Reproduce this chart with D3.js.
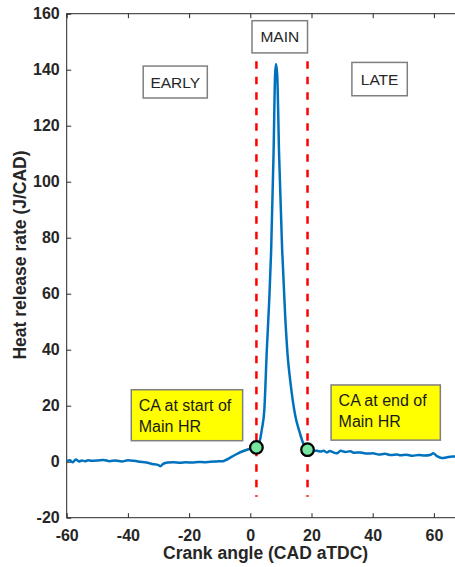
<!DOCTYPE html>
<html><head><meta charset="utf-8">
<script src="https://cdn.jsdelivr.net/npm/d3@7"></script>
<style>
body{margin:0;background:#fff;}
svg{display:block;font-family:"Liberation Sans",Arial,sans-serif;}
</style></head><body>
<svg id="c" width="455" height="567"></svg>
<script>
// Data
const cad = [-60,-59,-58,-57,-56,-55,-54,-53,-52,-50,-48,-46,-44,-42,-40,-38,-36,-34,-32,-30,-29.4,-28.5,-27,-25,-23,-21,-19,-17,-15,-13,-11,-9,-8,-6,-4,-2,0,1,2,3,3.8,4.6,5.4,6.2,6.8,7.6,8.1,8.4,8.8,9.4,10.4,11.4,12.2,13.1,14.7,16.1,17.4,18.7,20,21.8,23,24,25,26,27,28.3,29.5,31,32.7,34,36,38,40,42,44,46,48,49,51,53,55,57,59,59.8,61,62.6,64,66,68,70];
const hrr = [0.3,0.5,-0.2,0.8,0.1,0.4,0.2,0.5,0.3,0.4,0.6,0.2,0.4,0.1,0.5,0.3,0.0,-0.3,-0.8,-1.2,-1.6,-0.8,-0.3,-0.2,-0.4,-0.2,-0.3,-0.1,-0.2,0.0,0.1,0.2,0.6,1.8,3.0,3.9,4.6,4.9,5.1,7.0,11.7,18.8,40,58,75,110,138,142,138,110,76,52,38,28.5,16.4,10.6,6.3,4.3,3.9,3.9,3.6,3.9,3.3,3.8,3.4,3.0,3.9,3.5,3.7,3.2,3.3,2.9,3.0,2.6,2.8,2.4,2.6,2.3,2.5,2.1,2.4,2.2,2.5,3.0,2.0,1.3,1.5,1.9,1.8,1.8];
const boundaryCad = [2, 18.7];
const boundaryHrr = [5.1, 4.3];
const boundaryLineRange = [-12.5, 143];
const xTicks = [-60,-40,-20,0,20,40,60];
const yTicks = [-20,0,20,40,60,80,100,120,140,160];
const regionLabels = ["EARLY","MAIN","LATE"];
const regionBoxes = [[-35,-14.05,141.3,129.9],[0.56,18.7,157.5,146],[33.2,51.3,142.6,130.7]];
const noteLabels = [["CA at start of","Main HR"],["CA at end of","Main HR"]];
const noteBoxes = [[-38.9,-2.5,25.7,7.5],[26.4,62.1,27.4,7.7]];

const svg = d3.select("#c");
const L=66.7, R=464.5, T=13.7, B=517.7;
const x = d3.scaleLinear().domain([-60,70]).range([L,R]);
const y = d3.scaleLinear().domain([-20,160]).range([B,T]);
const axisCol = "#262626";
const fmt = d => String(d);

// frame
svg.append("rect").attr("x",L).attr("y",T).attr("width",R-L).attr("height",B-T)
  .attr("fill","none").attr("stroke",axisCol).attr("stroke-width",1);

// axes with inward ticks
const xa = svg.append("g").attr("transform",`translate(0,${B})`)
  .call(d3.axisBottom(x).tickValues(xTicks).tickFormat(fmt).tickSizeInner(-4.5).tickSizeOuter(0).tickPadding(12));
const xt = svg.append("g").attr("transform",`translate(0,${T})`)
  .call(d3.axisTop(x).tickValues(xTicks).tickSizeInner(-4.5).tickSizeOuter(0).tickFormat(""));
const ya = svg.append("g").attr("transform",`translate(${L},0)`)
  .call(d3.axisLeft(y).tickValues(yTicks).tickFormat(fmt).tickSizeInner(-4.5).tickSizeOuter(0).tickPadding(7));
[xa,xt,ya].forEach(g=>{
  g.select(".domain").remove();
  g.selectAll("line").attr("stroke",axisCol);
  g.selectAll("text").attr("fill",axisCol).attr("font-size",16).attr("font-weight","bold")
   .attr("font-family","'Liberation Sans',Arial,sans-serif");
});

// axis titles
svg.append("text").attr("x",(L+R)/2).attr("y",558.5).attr("text-anchor","middle")
  .attr("font-size",17.5).attr("font-weight","bold").attr("fill",axisCol).text("Crank angle (CAD aTDC)");
svg.append("text").attr("transform",`translate(26,255) rotate(-90)`).attr("text-anchor","middle")
  .attr("font-size",17.5).attr("font-weight","bold").attr("fill",axisCol).text("Heat release rate (J/CAD)");

// clip
svg.append("clipPath").attr("id","clip").append("rect").attr("x",L).attr("y",T).attr("width",R-L).attr("height",B-T);

// dashed boundary lines
svg.append("g").selectAll("line").data(boundaryCad).join("line")
  .attr("x1",d=>x(d)).attr("x2",d=>x(d))
  .attr("y1",y(boundaryLineRange[1])).attr("y2",y(boundaryLineRange[0]))
  .attr("stroke","#ff0000").attr("stroke-width",2.5).attr("stroke-dasharray","7.5,8");

// curve
const pts = cad.map((c,i)=>[c,hrr[i]]);
svg.append("path").datum(pts).attr("clip-path","url(#clip)")
  .attr("d",d3.line().x(d=>x(d[0])).y(d=>y(d[1])).curve(d3.curveMonotoneX))
  .attr("fill","none").attr("stroke","#0072BD").attr("stroke-width",2.5).attr("stroke-linejoin","round");

// markers
svg.append("g").selectAll("circle").data(boundaryCad).join("circle")
  .attr("cx",d=>x(d)).attr("cy",(d,i)=>y(boundaryHrr[i])).attr("r",6.3)
  .attr("fill","#77e6a0").attr("stroke","#000").attr("stroke-width",2.2);

// region label boxes
regionBoxes.forEach((b,i)=>{
  const g = svg.append("g");
  g.append("rect").attr("x",x(b[0])).attr("y",y(b[2])).attr("width",x(b[1])-x(b[0])).attr("height",y(b[3])-y(b[2]))
    .attr("fill","#fff").attr("stroke","#7f7f7f").attr("stroke-width",1.5);
  g.append("text").attr("x",(x(b[0])+x(b[1]))/2).attr("y",(y(b[2])+y(b[3]))/2+5.6)
    .attr("text-anchor","middle").attr("font-size",15.5).attr("fill",axisCol).text(regionLabels[i]);
});
// yellow note boxes
noteBoxes.forEach((b,i)=>{
  const g = svg.append("g");
  g.append("rect").attr("x",x(b[0])).attr("y",y(b[2])).attr("width",x(b[1])-x(b[0])).attr("height",y(b[3])-y(b[2]))
    .attr("fill","#ffff00").attr("stroke","#7f7f7f").attr("stroke-width",1.5);
  noteLabels[i].forEach((t,j)=>{
    g.append("text").attr("x",x(b[0])+7.5).attr("y",y(b[2])+21.5+j*21)
      .attr("font-size",16).attr("fill","#1a1a1a").text(t);
  });
});
</script></body></html>
